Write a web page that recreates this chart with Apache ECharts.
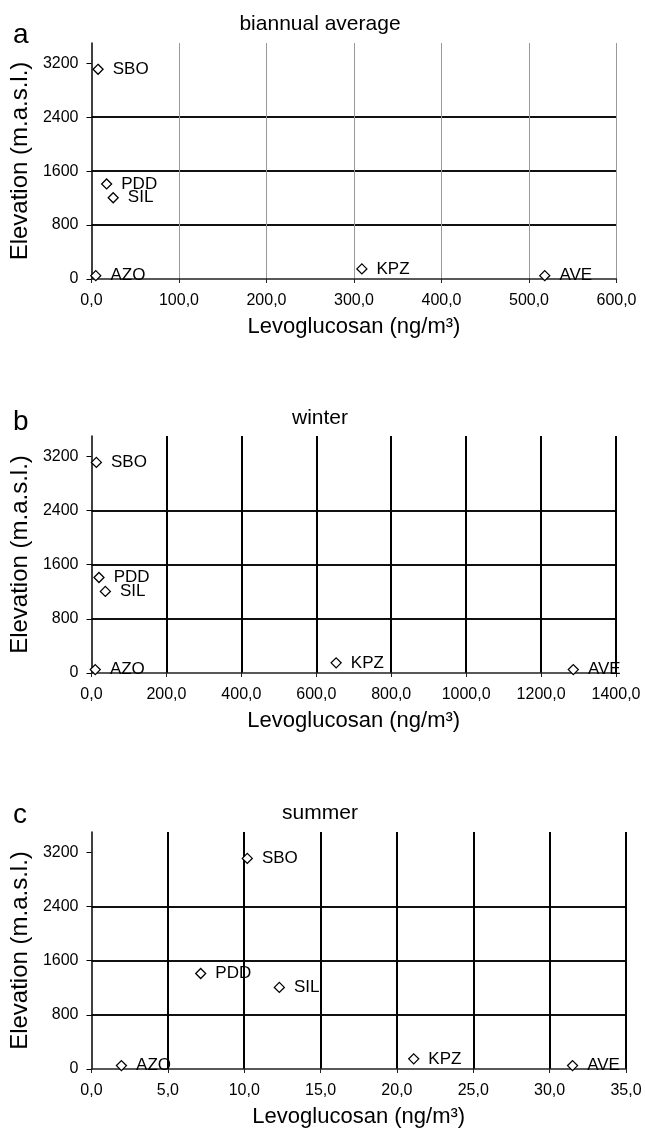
<!DOCTYPE html>
<html>
<head>
<meta charset="utf-8">
<title>Levoglucosan vs elevation</title>
<script src="https://cdn.jsdelivr.net/npm/echarts@6/dist/echarts.min.js"></script>
<style>
  html, body { margin: 0; padding: 0; background: #fff; }
  #chart { width: 645px; height: 1129px; }
</style>
</head>
<body>
<div id="chart"></div>
<script>
// sites and their elevation (m a.s.l.)
var sites = ['SBO', 'PDD', 'SIL', 'AZO', 'KPZ', 'AVE'];
var elevation = [3110, 1410, 1205, 50, 150, 50];

// levoglucosan (ng/m3) per panel
var levoAnnual = [7.5, 17.3, 24.8, 4.9, 309, 518];
var levoWinter = [13, 20, 37, 10, 653, 1286];
var levoSummer = [10.2, 7.15, 12.3, 1.96, 21.1, 31.5];

var panelTitles = ['biannual average', 'winter', 'summer'];
var panelLetters = ['a', 'b', 'c'];
var xMax = [600, 1400, 35];
var xStep = [100, 200, 5];
var yTicks = [0, 800, 1600, 2400, 3200];

var FONT = '"Liberation Sans", Arial, sans-serif';

// layout of the three panels
var grids = [
  { left: 91, right: 28.5, top: 43, height: 236 },
  { left: 91, right: 29, top: 436, height: 237 },
  { left: 91, right: 19, top: 832, height: 239 }
];
var vLine = [
  { color: '#999', width: 1 },
  { color: '#000', width: 2 },
  { color: '#000', width: 2 }
];
var titleY = [24, 418, 813];
var letterY = [35, 422, 815];

function fmt(v) {
  return v.toFixed(1).replace('.', ',');
}

var levo = [levoAnnual, levoWinter, levoSummer];
var xAxes = [], yAxes = [], series = [], graphics = [];

for (var p = 0; p < 3; p++) {
  xAxes.push({
    type: 'value',
    gridIndex: p,
    min: 0,
    max: xMax[p],
    interval: xStep[p],
    name: 'Levoglucosan (ng/m³)',
    nameLocation: 'middle',
    nameGap: 37,
    nameTextStyle: { fontFamily: FONT, fontSize: 22, color: '#000' },
    axisLine: { show: true, onZero: false, lineStyle: { color: '#222', width: 1.5 } },
    axisTick: { show: true, length: 4, lineStyle: { color: '#222' } },
    axisLabel: { formatter: fmt, fontFamily: FONT, fontSize: 16, color: '#000', margin: 14 },
    splitLine: { show: true, showMinLine: false, lineStyle: { color: vLine[p].color, width: vLine[p].width } }
  });
  yAxes.push({
    type: 'value',
    gridIndex: p,
    min: 0,
    max: 3500,
    interval: 800,
    name: 'Elevation (m.a.s.l.)',
    nameLocation: 'middle',
    nameGap: 56,
    nameTextStyle: { fontFamily: FONT, fontSize: 24, color: '#000' },
    axisLine: { show: true, onZero: false, lineStyle: { color: '#000', width: 1.5 } },
    axisTick: { show: true, length: 5, customValues: yTicks, lineStyle: { color: '#000' } },
    axisLabel: {
      customValues: yTicks,
      formatter: function (v) { return v % 800 === 0 ? String(v) : ''; },
      fontFamily: FONT, fontSize: 16, color: '#000', margin: 13
    },
    splitLine: { show: true, showMinLine: false, showMaxLine: false, lineStyle: { color: '#111', width: 2 } }
  });

  var pts = [];
  for (var i = 0; i < sites.length; i++) {
    pts.push({ value: [levo[p][i], elevation[i]], name: sites[i] });
  }
  series.push({
    type: 'scatter',
    xAxisIndex: p,
    yAxisIndex: p,
    symbol: 'diamond',
    symbolSize: [10, 10],
    itemStyle: { color: '#fff', borderColor: '#000', borderWidth: 1.3, opacity: 1 },
    label: {
      show: true,
      position: 'right',
      distance: 9,
      formatter: '{b}',
      fontFamily: FONT,
      fontSize: 17,
      color: '#000',
      opacity: 1
    },
    data: pts,
    z: 5
  });

  graphics.push({
    type: 'text',
    x: 320,
    y: titleY[p],
    style: { text: panelTitles[p], font: '21px ' + FONT, fill: '#000', align: 'center', verticalAlign: 'middle' }
  });
  graphics.push({
    type: 'text',
    x: 13,
    y: letterY[p],
    style: { text: panelLetters[p], font: '28px ' + FONT, fill: '#000', align: 'left', verticalAlign: 'middle' }
  });
}

var chart = echarts.init(document.getElementById('chart'));
chart.setOption({
  animation: false,
  backgroundColor: '#fff',
  grid: grids,
  xAxis: xAxes,
  yAxis: yAxes,
  series: series,
  graphic: graphics
});
</script>
</body>
</html>
